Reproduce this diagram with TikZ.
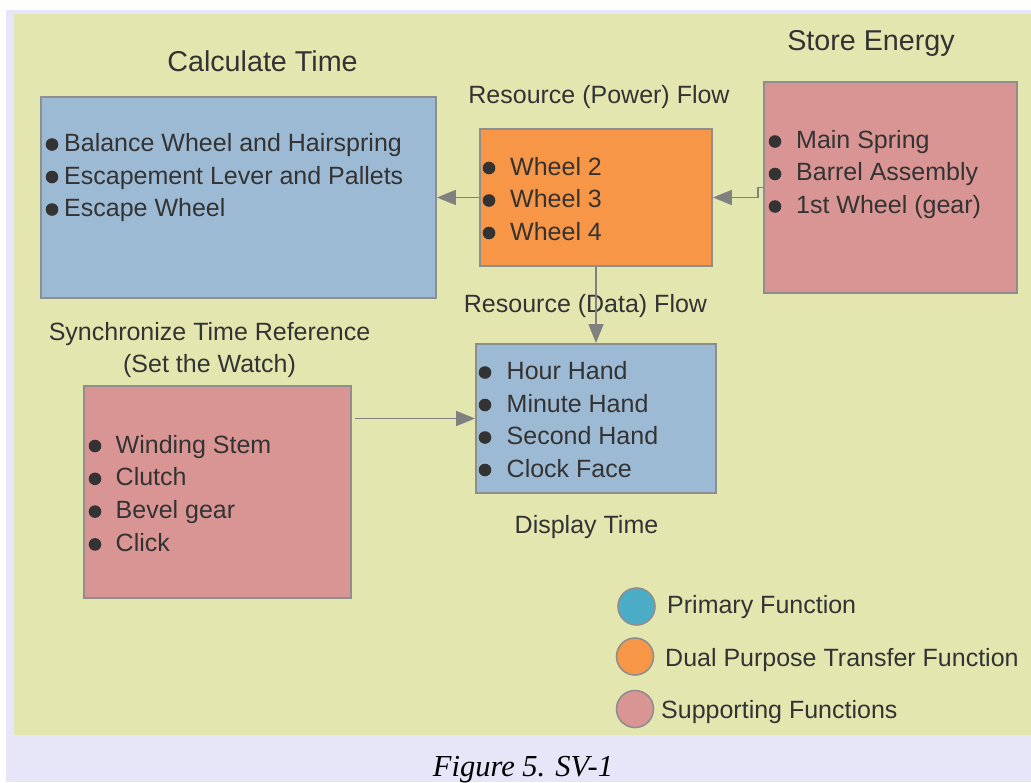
\documentclass[tikz,border=0pt]{standalone}
\usepackage{fontspec}
\setmainfont{Liberation Sans}
\newfontfamily\capfont{Liberation Serif}
\usetikzlibrary{arrows.meta}
\definecolor{bgyellow}{HTML}{E3E7AF}
\definecolor{lav}{HTML}{E6E6F8}
\definecolor{bluebox}{HTML}{9DBAD5}
\definecolor{orangebox}{HTML}{F79646}
\definecolor{pinkbox}{HTML}{D99594}
\definecolor{aqua}{HTML}{4BACC6}
\definecolor{textc}{HTML}{333333}
\definecolor{edgec}{HTML}{8E8E8E}
\definecolor{arrc}{HTML}{808080}
\begin{document}
\begin{tikzpicture}[x=1pt,y=-1pt,
  box/.style={draw=edgec, line width=1.8pt, rectangle, inner sep=0pt},
  txt/.style={anchor=base west, inner sep=0pt, text=textc, font=\fontsize{25}{30}\selectfont},
  ttl/.style={anchor=base, inner sep=0pt, text=textc, font=\fontsize{28.7}{34}\selectfont},
  lbl/.style={anchor=base, inner sep=0pt, text=textc, font=\fontsize{25}{30}\selectfont},
  bul/.style={fill=textc},
  arr/.style={draw=arrc, line width=1.6pt, -{Triangle[length=19pt,width=15pt]}},
  legc/.style={circle, draw=edgec, line width=1.6pt, minimum size=37pt, inner sep=0pt}]
\useasboundingbox (0,0) rectangle (1031,782);
\fill[white] (0,0) rectangle (1031,782);
\fill[lav] (6,10) rectangle (1031,782);
\fill[bgyellow] (14,14) rectangle (1031,735);

% boxes
\node[box, fill=bluebox, minimum width=395pt, minimum height=201pt] (calc) at (238.5,197.5) {};
\node[box, fill=orangebox, minimum width=232pt, minimum height=137pt] (xfer) at (596,197.5) {};
\node[box, fill=pinkbox, minimum width=253pt, minimum height=211pt] (store) at (890.5,187.5) {};
\node[box, fill=bluebox, minimum width=240pt, minimum height=149pt] (disp) at (596,418.5) {};
\node[box, fill=pinkbox, minimum width=267pt, minimum height=212pt] (sync) at (217.5,492) {};

% titles and labels
\node[ttl] (tcalc) at (262.5,71) {Calculate Time};
\node[ttl] (tstore) at (871,50) {Store Energy};
\node[lbl] (tpower) at (599,103) {Resource (Power) Flow};
\node[lbl] (tdata) at (585.5,312) {Resource (Data) Flow};
\node[lbl] (tsync1) at (209.5,340) {Synchronize Time Reference};
\node[lbl] (tsync2) at (209.5,372) {(Set the Watch)};
\node[lbl] (tdisp) at (586.5,533) {Display Time};

% items
\foreach \t [count=\i from 0] in {Balance Wheel and Hairspring, Escapement Lever and Pallets, Escape Wheel} {
  \fill[bul] (52,144.5+32.5*\i) circle (6.3pt);
  \node[txt] (calc-\i) at (64,151.5+32.5*\i) {\t};
}
\foreach \t [count=\i from 0] in {Wheel 2, Wheel 3, Wheel 4} {
  \fill[bul] (489,168+32.5*\i) circle (6.3pt);
  \node[txt] (xfer-\i) at (510,175+32.5*\i) {\t};
}
\foreach \t [count=\i from 0] in {Main Spring, Barrel Assembly, 1st Wheel (gear)} {
  \fill[bul] (775,141.5+32.5*\i) circle (6.3pt);
  \node[txt] (store-\i) at (796,148+32.5*\i) {\t};
}
\foreach \t [count=\i from 0] in {Hour Hand, Minute Hand, Second Hand, Clock Face} {
  \fill[bul] (485,372.5+32.5*\i) circle (6.3pt);
  \node[txt] (disp-\i) at (506.5,379.5+32.5*\i) {\t};
}
\foreach \t [count=\i from 0] in {Winding Stem, Clutch, Bevel gear, Click} {
  \fill[bul] (95,446+32.8*\i) circle (6.3pt);
  \node[txt] (sync-\i) at (115.5,453+32.8*\i) {\t};
}

% connectors
\draw[arr] (xfer.west) -- (calc.east |- xfer.west);
\draw[arr] (store.west) -- ++(-5,0) |- (xfer.east);
\draw[arr] (xfer.south) -- (disp.north);
\coordinate (syncout) at ([xshift=3pt]sync.east |- disp.west);
\draw[arr] (syncout) -- (disp.west);

% legend
\node[legc, fill=aqua] (l1) at (636.5,606.5) {};
\node[legc, fill=orangebox] (l2) at (635,656.5) {};
\node[legc, fill=pinkbox] (l3) at (635,709) {};
\node[txt] (lt1) at (667,613) {Primary Function};
\node[txt] (lt2) at (665,666) {Dual Purpose Transfer Function};
\node[txt] (lt3) at (661,718) {Supporting Functions};

% caption
\node[anchor=base, inner sep=0pt, font=\capfont\itshape\fontsize{30.5}{36}\selectfont] (cap) at (523,776) {Figure 5. SV-1};
\end{tikzpicture}
\end{document}
